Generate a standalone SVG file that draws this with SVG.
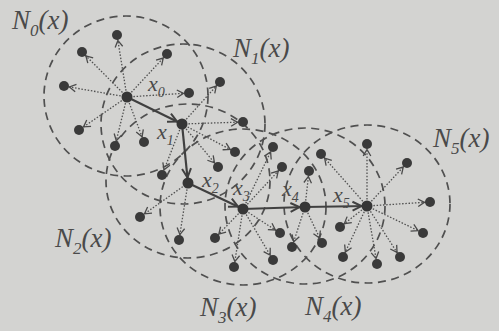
<svg xmlns="http://www.w3.org/2000/svg" width="499" height="331" viewBox="0 0 499 331">
<defs>
<style>
.nb{fill:none;stroke:#505050;stroke-width:1.7;stroke-dasharray:8 5.5}
.dt{stroke:#505050;stroke-width:1.3;stroke-dasharray:1.5 1.7;fill:none;marker-end:url(#ad)}
.sd{stroke:#404040;stroke-width:2.2;fill:none;marker-end:url(#as)}
.dot{fill:#3a3a3a}
.ctr{fill:#363636}
.lb{font-family:"Liberation Serif","Times New Roman","DejaVu Serif",serif;font-style:italic;fill:#4a4a4a}
.nl{font-size:27px}
.xl{font-size:22px}
</style>
<marker id="ad" markerUnits="userSpaceOnUse" markerWidth="20" markerHeight="20" refX="5.5" refY="0" orient="auto" overflow="visible">
<path d="M-6.5,-3.8 L0,0 L-6.5,3.8" fill="none" stroke="#4a4a4a" stroke-width="1.3"/>
</marker>
<marker id="as" markerUnits="userSpaceOnUse" markerWidth="20" markerHeight="20" refX="5.5" refY="0" orient="auto" overflow="visible">
<path d="M-9,-4.5 L0,0 L-9,4.5" fill="none" stroke="#404040" stroke-width="2"/>
</marker>
</defs>
<rect width="499" height="331" fill="#d3d3d1"/>

<g id="N0"><ellipse class="nb" cx="126" cy="96" rx="82" ry="80"/><text class="lb nl" x="12" y="29">N<tspan font-size="17" dy="7">0</tspan><tspan dy="-7">(x)</tspan></text></g>
<g id="N1"><ellipse class="nb" cx="183" cy="124" rx="82" ry="80"/><text class="lb nl" x="233" y="57">N<tspan font-size="17" dy="7">1</tspan><tspan dy="-7">(x)</tspan></text></g>
<g id="N2"><ellipse class="nb" cx="188" cy="181" rx="82" ry="77"/><text class="lb nl" x="55" y="247">N<tspan font-size="17" dy="7">2</tspan><tspan dy="-7">(x)</tspan></text></g>
<g id="N3"><ellipse class="nb" cx="243" cy="207" rx="83" ry="78"/><text class="lb nl" x="200" y="316">N<tspan font-size="17" dy="7">3</tspan><tspan dy="-7">(x)</tspan></text></g>
<g id="N4"><ellipse class="nb" cx="305" cy="206" rx="80" ry="78"/><text class="lb nl" x="305" y="315">N<tspan font-size="17" dy="7">4</tspan><tspan dy="-7">(x)</tspan></text></g>
<g id="N5"><ellipse class="nb" cx="367" cy="204" rx="83" ry="79"/><text class="lb nl" x="433" y="147">N<tspan font-size="17" dy="7">5</tspan><tspan dy="-7">(x)</tspan></text></g>

<g id="connectors">
<line class="dt" x1="127" y1="97" x2="117" y2="35"/>
<line class="dt" x1="127" y1="97" x2="82" y2="52"/>
<line class="dt" x1="127" y1="97" x2="167" y2="54"/>
<line class="dt" x1="127" y1="97" x2="64" y2="86"/>
<line class="dt" x1="127" y1="97" x2="189" y2="93"/>
<line class="dt" x1="127" y1="97" x2="79" y2="130"/>
<line class="dt" x1="127" y1="97" x2="115" y2="146"/>
<line class="dt" x1="127" y1="97" x2="144" y2="142"/>

<line class="dt" x1="182" y1="124" x2="220" y2="82"/>
<line class="dt" x1="182" y1="124" x2="243" y2="122"/>
<line class="dt" x1="182" y1="124" x2="235" y2="152"/>
<line class="dt" x1="182" y1="124" x2="218" y2="167"/>
<line class="dt" x1="182" y1="124" x2="162" y2="175"/>

<line class="dt" x1="188" y1="183" x2="140" y2="217"/>
<line class="dt" x1="188" y1="183" x2="179" y2="240"/>

<line class="dt" x1="243" y1="209" x2="273" y2="147"/>
<line class="dt" x1="243" y1="209" x2="282" y2="167"/>
<line class="dt" x1="243" y1="209" x2="215" y2="238"/>
<line class="dt" x1="243" y1="209" x2="234" y2="267"/>
<line class="dt" x1="243" y1="209" x2="273" y2="260"/>
<line class="dt" x1="243" y1="209" x2="280" y2="233"/>

<line class="dt" x1="305" y1="207" x2="309" y2="171"/>
<line class="dt" x1="305" y1="207" x2="292" y2="247"/>
<line class="dt" x1="305" y1="207" x2="322" y2="243"/>

<line class="dt" x1="367" y1="206" x2="367" y2="144"/>
<line class="dt" x1="367" y1="206" x2="321" y2="154"/>
<line class="dt" x1="367" y1="206" x2="407" y2="163"/>
<line class="dt" x1="367" y1="206" x2="430" y2="202"/>
<line class="dt" x1="367" y1="206" x2="423" y2="233"/>
<line class="dt" x1="367" y1="206" x2="400" y2="257"/>
<line class="dt" x1="367" y1="206" x2="377" y2="264"/>
<line class="dt" x1="367" y1="206" x2="343" y2="257"/>
<line class="dt" x1="367" y1="206" x2="340" y2="227"/>

<line class="sd" x1="127" y1="97" x2="182" y2="124"/>
<line class="sd" x1="182" y1="124" x2="188" y2="183"/>
<line class="sd" x1="188" y1="183" x2="243" y2="209"/>
<line class="sd" x1="243" y1="209" x2="305" y2="207"/>
<line class="sd" x1="305" y1="207" x2="367" y2="206"/>
</g>

<g id="x0"><circle class="ctr" cx="127" cy="97" r="5.5"/><text class="lb xl" x="148" y="91">x<tspan font-size="14" dy="6">0</tspan></text></g>
<g id="x1"><circle class="ctr" cx="182" cy="124" r="5.5"/><text class="lb xl" x="157" y="139">x<tspan font-size="14" dy="6">1</tspan></text></g>
<g id="x2"><circle class="ctr" cx="188" cy="183" r="5.5"/><text class="lb xl" x="202" y="187">x<tspan font-size="14" dy="6">2</tspan></text></g>
<g id="x3"><circle class="ctr" cx="243" cy="209" r="5.5"/><text class="lb xl" x="233" y="195">x<tspan font-size="14" dy="6">3</tspan></text></g>
<g id="x4"><circle class="ctr" cx="305" cy="207" r="5.5"/><text class="lb xl" x="282" y="196">x<tspan font-size="14" dy="6">4</tspan></text></g>
<g id="x5"><circle class="ctr" cx="367" cy="206" r="5.5"/><text class="lb xl" x="333" y="202">x<tspan font-size="14" dy="6">5</tspan></text></g>

<g id="sat0">
<circle class="dot" cx="117" cy="35" r="5"/><circle class="dot" cx="82" cy="52" r="5"/><circle class="dot" cx="167" cy="54" r="5"/><circle class="dot" cx="64" cy="86" r="5"/><circle class="dot" cx="189" cy="93" r="5"/><circle class="dot" cx="79" cy="130" r="5"/><circle class="dot" cx="115" cy="146" r="5"/><circle class="dot" cx="144" cy="142" r="5"/>
</g>
<g id="sat1">
<circle class="dot" cx="220" cy="82" r="5"/><circle class="dot" cx="243" cy="122" r="5"/><circle class="dot" cx="235" cy="152" r="5"/><circle class="dot" cx="218" cy="167" r="5"/><circle class="dot" cx="162" cy="175" r="5"/>
</g>
<g id="sat2">
<circle class="dot" cx="140" cy="217" r="5"/><circle class="dot" cx="179" cy="240" r="5"/>
</g>
<g id="sat3">
<circle class="dot" cx="273" cy="147" r="5"/><circle class="dot" cx="282" cy="167" r="5"/><circle class="dot" cx="215" cy="238" r="5"/><circle class="dot" cx="234" cy="267" r="5"/><circle class="dot" cx="273" cy="260" r="5"/><circle class="dot" cx="280" cy="233" r="5"/>
</g>
<g id="sat4">
<circle class="dot" cx="309" cy="171" r="5"/><circle class="dot" cx="292" cy="247" r="5"/><circle class="dot" cx="322" cy="243" r="5"/>
</g>
<g id="sat5">
<circle class="dot" cx="367" cy="144" r="5"/><circle class="dot" cx="321" cy="154" r="5"/><circle class="dot" cx="407" cy="163" r="5"/><circle class="dot" cx="430" cy="202" r="5"/><circle class="dot" cx="423" cy="233" r="5"/><circle class="dot" cx="400" cy="257" r="5"/><circle class="dot" cx="377" cy="264" r="5"/><circle class="dot" cx="343" cy="257" r="5"/><circle class="dot" cx="340" cy="227" r="5"/>
</g>
</svg>
